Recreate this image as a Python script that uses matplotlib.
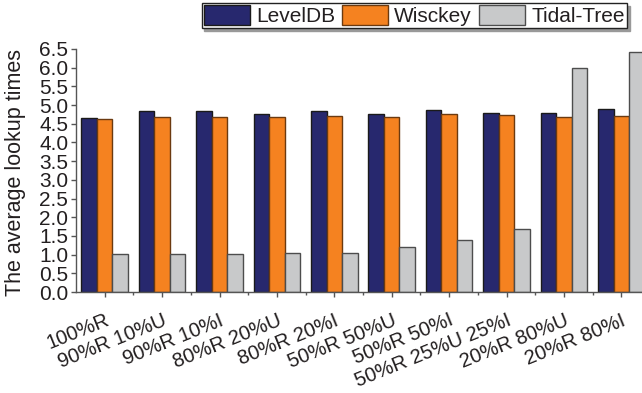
import numpy as np
import matplotlib.pyplot as plt
import matplotlib.transforms as mtransforms
from matplotlib.ticker import MultipleLocator, FixedLocator

plt.rcParams['font.family'] = ['Liberation Sans', 'DejaVu Sans']

# workloads
workloads = ['100%R', '90%R 10%U', '90%R 10%I', '80%R 20%U', '80%R 20%I',
             '50%R 50%U', '50%R 50%I', '50%R 25%U 25%I', '20%R 80%U', '20%R 80%I']
# average lookup times
leveldb = [4.65, 4.84, 4.85, 4.76, 4.85, 4.76, 4.87, 4.79, 4.78, 4.90]
wisckey = [4.64, 4.67, 4.69, 4.68, 4.71, 4.68, 4.77, 4.74, 4.68, 4.72]
tidal = [1.01, 1.02, 1.02, 1.04, 1.04, 1.21, 1.38, 1.68, 5.99, 6.43]

txt = '#231f20'
ind = np.arange(len(workloads))
w = 0.27

fig = plt.figure(figsize=(6.42, 3.93), dpi=100)
ax = fig.add_axes([76/642, 101/393, 574/642, 243/393])

ax.bar(ind - w, leveldb, w, color='#27286e', edgecolor='#1a1a1a', linewidth=1, label='LevelDB')
ax.bar(ind, wisckey, w, color='#f58220', edgecolor='#6b3a10', linewidth=1, label='Wisckey')
ax.bar(ind + w, tidal, w, color='#c8c9ca', edgecolor='#4d4d4d', linewidth=1, label='Tidal-Tree')

ax.set_xlim(-0.5, len(workloads) - 0.5)
ax.set_ylim(0, 6.5)
ax.yaxis.set_major_locator(MultipleLocator(0.5))
ax.set_yticklabels(['%.1f' % v for v in ax.get_yticks()])

ax.set_xticks(ind)
ax.xaxis.set_minor_locator(FixedLocator(ind[:-1] + 0.5))
ax.set_xticklabels(workloads, rotation=22, ha='right', va='top', rotation_mode='anchor')
offset = mtransforms.ScaledTranslation(9/100, 0, fig.dpi_scale_trans)
for lab in ax.get_xticklabels():
    lab.set_transform(lab.get_transform() + offset)

for s in ['top', 'right']:
    ax.spines[s].set_visible(False)
for s in ['left', 'bottom']:
    ax.spines[s].set_color('#555555')
    ax.spines[s].set_linewidth(1)

ax.tick_params(axis='both', which='major', direction='out', length=3.5, width=1,
               color='#555555', labelcolor=txt)
ax.tick_params(axis='x', which='major', pad=10, labelsize=14.5)
ax.tick_params(axis='y', which='major', pad=2, labelsize=15)
ax.tick_params(axis='x', which='minor', direction='out', length=2, width=1, color='#555555')

ax.set_ylabel('The average lookup times', fontsize=15.5, color=txt)
ax.yaxis.set_label_coords(-0.087, 0.49)

leg = ax.legend(ncol=3, loc='upper right', bbox_to_anchor=(627/642, 1 - 3/393),
                bbox_transform=fig.transFigure,
                fontsize=15, frameon=True, fancybox=False, shadow={'color': '0.6', 'alpha': 1},
                handlelength=2.2, handleheight=1.1, handletextpad=0.3, columnspacing=0.35,
                borderpad=0.1, borderaxespad=0)
leg.get_frame().set_edgecolor('#222222')
leg.get_frame().set_linewidth(1)
for t in leg.get_texts():
    t.set_color(txt)

plt.savefig('out.png', dpi=100)
